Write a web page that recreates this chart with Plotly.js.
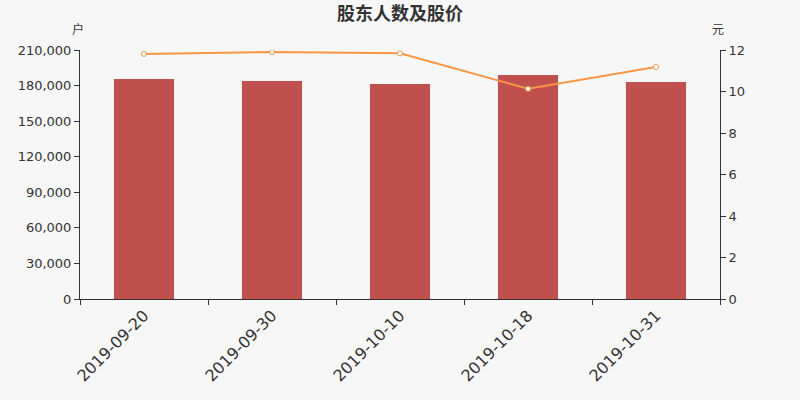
<!DOCTYPE html>
<html>
<head>
<meta charset="utf-8">
<script src="https://cdn.plot.ly/plotly-3.0.1.min.js"></script>
<style>
  html, body { margin: 0; padding: 0; background: #f7f7f7; }
  #chart { width: 800px; height: 400px; }
</style>
</head>
<body>
<div id="chart"></div>
<script>
var dates = ['2019-09-20', '2019-09-30', '2019-10-10', '2019-10-18', '2019-10-31'];
var holders = [185500, 183900, 181300, 188900, 183000];
var prices = [11.81, 11.90, 11.84, 10.13, 11.18];

var bars = {
  x: dates, y: holders,
  type: 'bar', name: '股东人数',
  marker: { color: '#c0504d' },
  hovertemplate: '%{x}<br>%{y:,d} 户<extra></extra>'
};

var line = {
  x: dates, y: prices, yaxis: 'y2',
  type: 'scatter', mode: 'lines+markers', name: '股价',
  line: { color: '#f79646', width: 2 },
  marker: { size: 5, color: '#ffffff', line: { color: '#f79646', width: 1 } },
  hovertemplate: '%{x}<br>%{y:.2f} 元<extra></extra>'
};

var tickFont = { family: 'DejaVu Sans, sans-serif', size: 13, color: '#333333' };

var layout = {
  width: 800, height: 400,
  paper_bgcolor: '#f7f7f7',
  plot_bgcolor: '#f7f7f7',
  showlegend: false,
  bargap: 0.53,
  margin: { l: 80, r: 80, t: 50, b: 101 },
  title: {
    text: '<b>股东人数及股价</b>',
    x: 0.5, xanchor: 'center', y: 0.966, yanchor: 'middle',
    font: { family: 'Noto Sans CJK SC, sans-serif', size: 18, color: '#333333' }
  },
  xaxis: {
    type: 'category',
    tickson: 'boundaries',
    ticks: 'outside', ticklen: 5, tickcolor: '#333333',
    showline: true, linecolor: '#333333', linewidth: 1,
    showgrid: false, zeroline: false,
    tickangle: -45,
    tickfont: { family: 'DejaVu Sans, sans-serif', size: 16, color: '#333333' }
  },
  yaxis: {
    range: [0, 210000], dtick: 30000, tickformat: ',d',
    ticks: 'outside', ticklen: 5, tickcolor: '#333333',
    showline: true, linecolor: '#333333', linewidth: 1,
    showgrid: false, zeroline: false,
    tickfont: tickFont
  },
  yaxis2: {
    overlaying: 'y', side: 'right',
    range: [0, 12], dtick: 2,
    ticks: 'outside', ticklen: 5, tickcolor: '#333333',
    showline: true, linecolor: '#333333', linewidth: 1,
    showgrid: false, zeroline: false,
    tickfont: tickFont
  },
  annotations: [
    { text: '户', xref: 'paper', yref: 'paper', x: 0, y: 1, xshift: -2, yshift: 22,
      xanchor: 'center', yanchor: 'middle', showarrow: false,
      font: { family: 'Noto Sans CJK SC, sans-serif', size: 12, color: '#333333' } },
    { text: '元', xref: 'paper', yref: 'paper', x: 1, y: 1, xshift: -2, yshift: 22,
      xanchor: 'center', yanchor: 'middle', showarrow: false,
      font: { family: 'Noto Sans CJK SC, sans-serif', size: 12, color: '#333333' } }
  ]
};

Plotly.newPlot('chart', [bars, line], layout, { displayModeBar: false });
</script>
</body>
</html>
